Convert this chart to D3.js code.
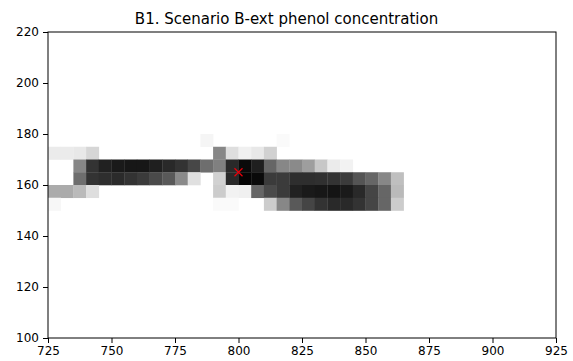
<!DOCTYPE html>
<html>
<head>
<meta charset="utf-8">
<script src="https://cdn.jsdelivr.net/npm/d3@7"></script>
<style>
  html, body { margin: 0; padding: 0; background: #fff; }
  svg { display: block; }
  text { font-family: "DejaVu Sans", sans-serif; fill: #000; }
</style>
</head>
<body>
<svg id="chart" width="573" height="361"></svg>
<script>
// Grid cell lower edges (5 m cells)
const cellSize = 5;
const xEdges = [725, 730, 735, 740, 745, 750, 755, 760, 765, 770, 775, 780, 785, 790,
                795, 800, 805, 810, 815, 820, 825, 830, 835, 840, 845, 850, 855, 860];
const yEdges = [175, 170, 165, 160, 155, 150];

// Relative phenol concentration per cell (rows follow yEdges, columns follow xEdges)
const row175 = [0, 0, 0, 0, 0, 0, 0, 0, 0, 0, 0, 0, 4, 0, 0, 0, 0, 0, 2, 0, 0, 0, 0, 0, 0, 0, 0, 0];
const row170 = [8, 8, 9, 16, 0, 0, 0, 0, 0, 0, 0, 0, 0, 47, 13, 6, 9, 18, 0, 0, 0, 0, 0, 0, 0, 0, 0, 0];
const row165 = [0, 0, 47, 80, 87, 90, 91, 91, 88, 84, 80, 72, 57, 50, 84, 96, 88, 60, 47, 46, 38, 22, 8, 5, 0, 0, 0, 0];
const row160 = [0, 0, 57, 80, 82, 83, 80, 77, 71, 65, 46, 12, 0, 18, 84, 98, 96, 77, 77, 82, 82, 81, 80, 77, 67, 60, 47, 25];
const row155 = [33, 33, 27, 13, 0, 0, 0, 0, 0, 0, 0, 0, 0, 20, 5, 6, 60, 71, 77, 87, 90, 91, 92, 90, 84, 73, 60, 27];
const row150 = [3, 0, 0, 0, 0, 0, 0, 0, 0, 0, 0, 0, 0, 2, 2, 0, 0, 20, 47, 65, 73, 80, 84, 84, 80, 73, 60, 20];
const concentration = [row175, row170, row165, row160, row155, row150];

// Release point
const sourceX = [800];
const sourceY = [165];

// Axis ticks
const xTicks = [725, 750, 775, 800, 825, 850, 875, 900, 925];
const yTicks = [100, 120, 140, 160, 180, 200, 220];

const titleText = "B1. Scenario B-ext phenol concentration";

const svg = d3.select("#chart");
const width = 573;
const plotLeft = 48, plotRight = 556, plotTop = 32, plotBottom = 338;

const x = d3.scaleLinear().domain([725, 925]).range([plotLeft, plotRight]);
const y = d3.scaleLinear().domain([100, 220]).range([plotBottom, plotTop]);
const grey = d3.scaleLinear().domain([0, 100]).range(["#ffffff", "#000000"]);

// Flatten the grid into cells
const cells = [];
concentration.forEach((row, ri) => {
  row.forEach((v, ci) => {
    if (v > 0) cells.push({ x0: xEdges[ci], y0: yEdges[ri], v });
  });
});

svg.append("g")
  .selectAll("rect")
  .data(cells)
  .join("rect")
  .attr("x", d => x(d.x0))
  .attr("y", d => y(d.y0 + cellSize))
  .attr("width", d => x(d.x0 + cellSize) - x(d.x0) + 0.3)
  .attr("height", d => y(d.y0) - y(d.y0 + cellSize) + 0.3)
  .attr("fill", d => grey(d.v));

// Source marker
const mk = 4;
const markers = svg.append("g");
sourceX.forEach((sx, i) => {
  const cx = x(sx), cy = y(sourceY[i]);
  markers.append("path")
    .attr("d", `M${cx - mk},${cy - mk}L${cx + mk},${cy + mk}M${cx - mk},${cy + mk}L${cx + mk},${cy - mk}`)
    .attr("stroke", "#e8000b")
    .attr("stroke-width", 1.2)
    .attr("fill", "none");
});

// Axes
const xAxis = svg.append("g")
  .attr("transform", `translate(0,${plotBottom})`)
  .call(d3.axisBottom(x).tickValues(xTicks).tickFormat(d3.format("d")).tickSize(5).tickPadding(3));
const yAxis = svg.append("g")
  .attr("transform", `translate(${plotLeft},0)`)
  .call(d3.axisLeft(y).tickValues(yTicks).tickFormat(d3.format("d")).tickSize(5).tickPadding(4));

[xAxis, yAxis].forEach(g => {
  g.select(".domain").remove();
  g.selectAll("text").style("font-family", "DejaVu Sans, sans-serif").style("font-size", "12px").attr("fill", "#000");
  g.selectAll("line").attr("stroke", "#000").attr("stroke-width", 1);
});

// Frame
svg.append("rect")
  .attr("x", plotLeft).attr("y", plotTop)
  .attr("width", plotRight - plotLeft).attr("height", plotBottom - plotTop)
  .attr("fill", "none").attr("stroke", "#000").attr("stroke-width", 1);

// Title, centred on the figure
svg.append("text")
  .attr("x", width / 2)
  .attr("y", 24)
  .attr("text-anchor", "middle")
  .style("font-size", "15px")
  .text(titleText);
</script>
</body>
</html>
